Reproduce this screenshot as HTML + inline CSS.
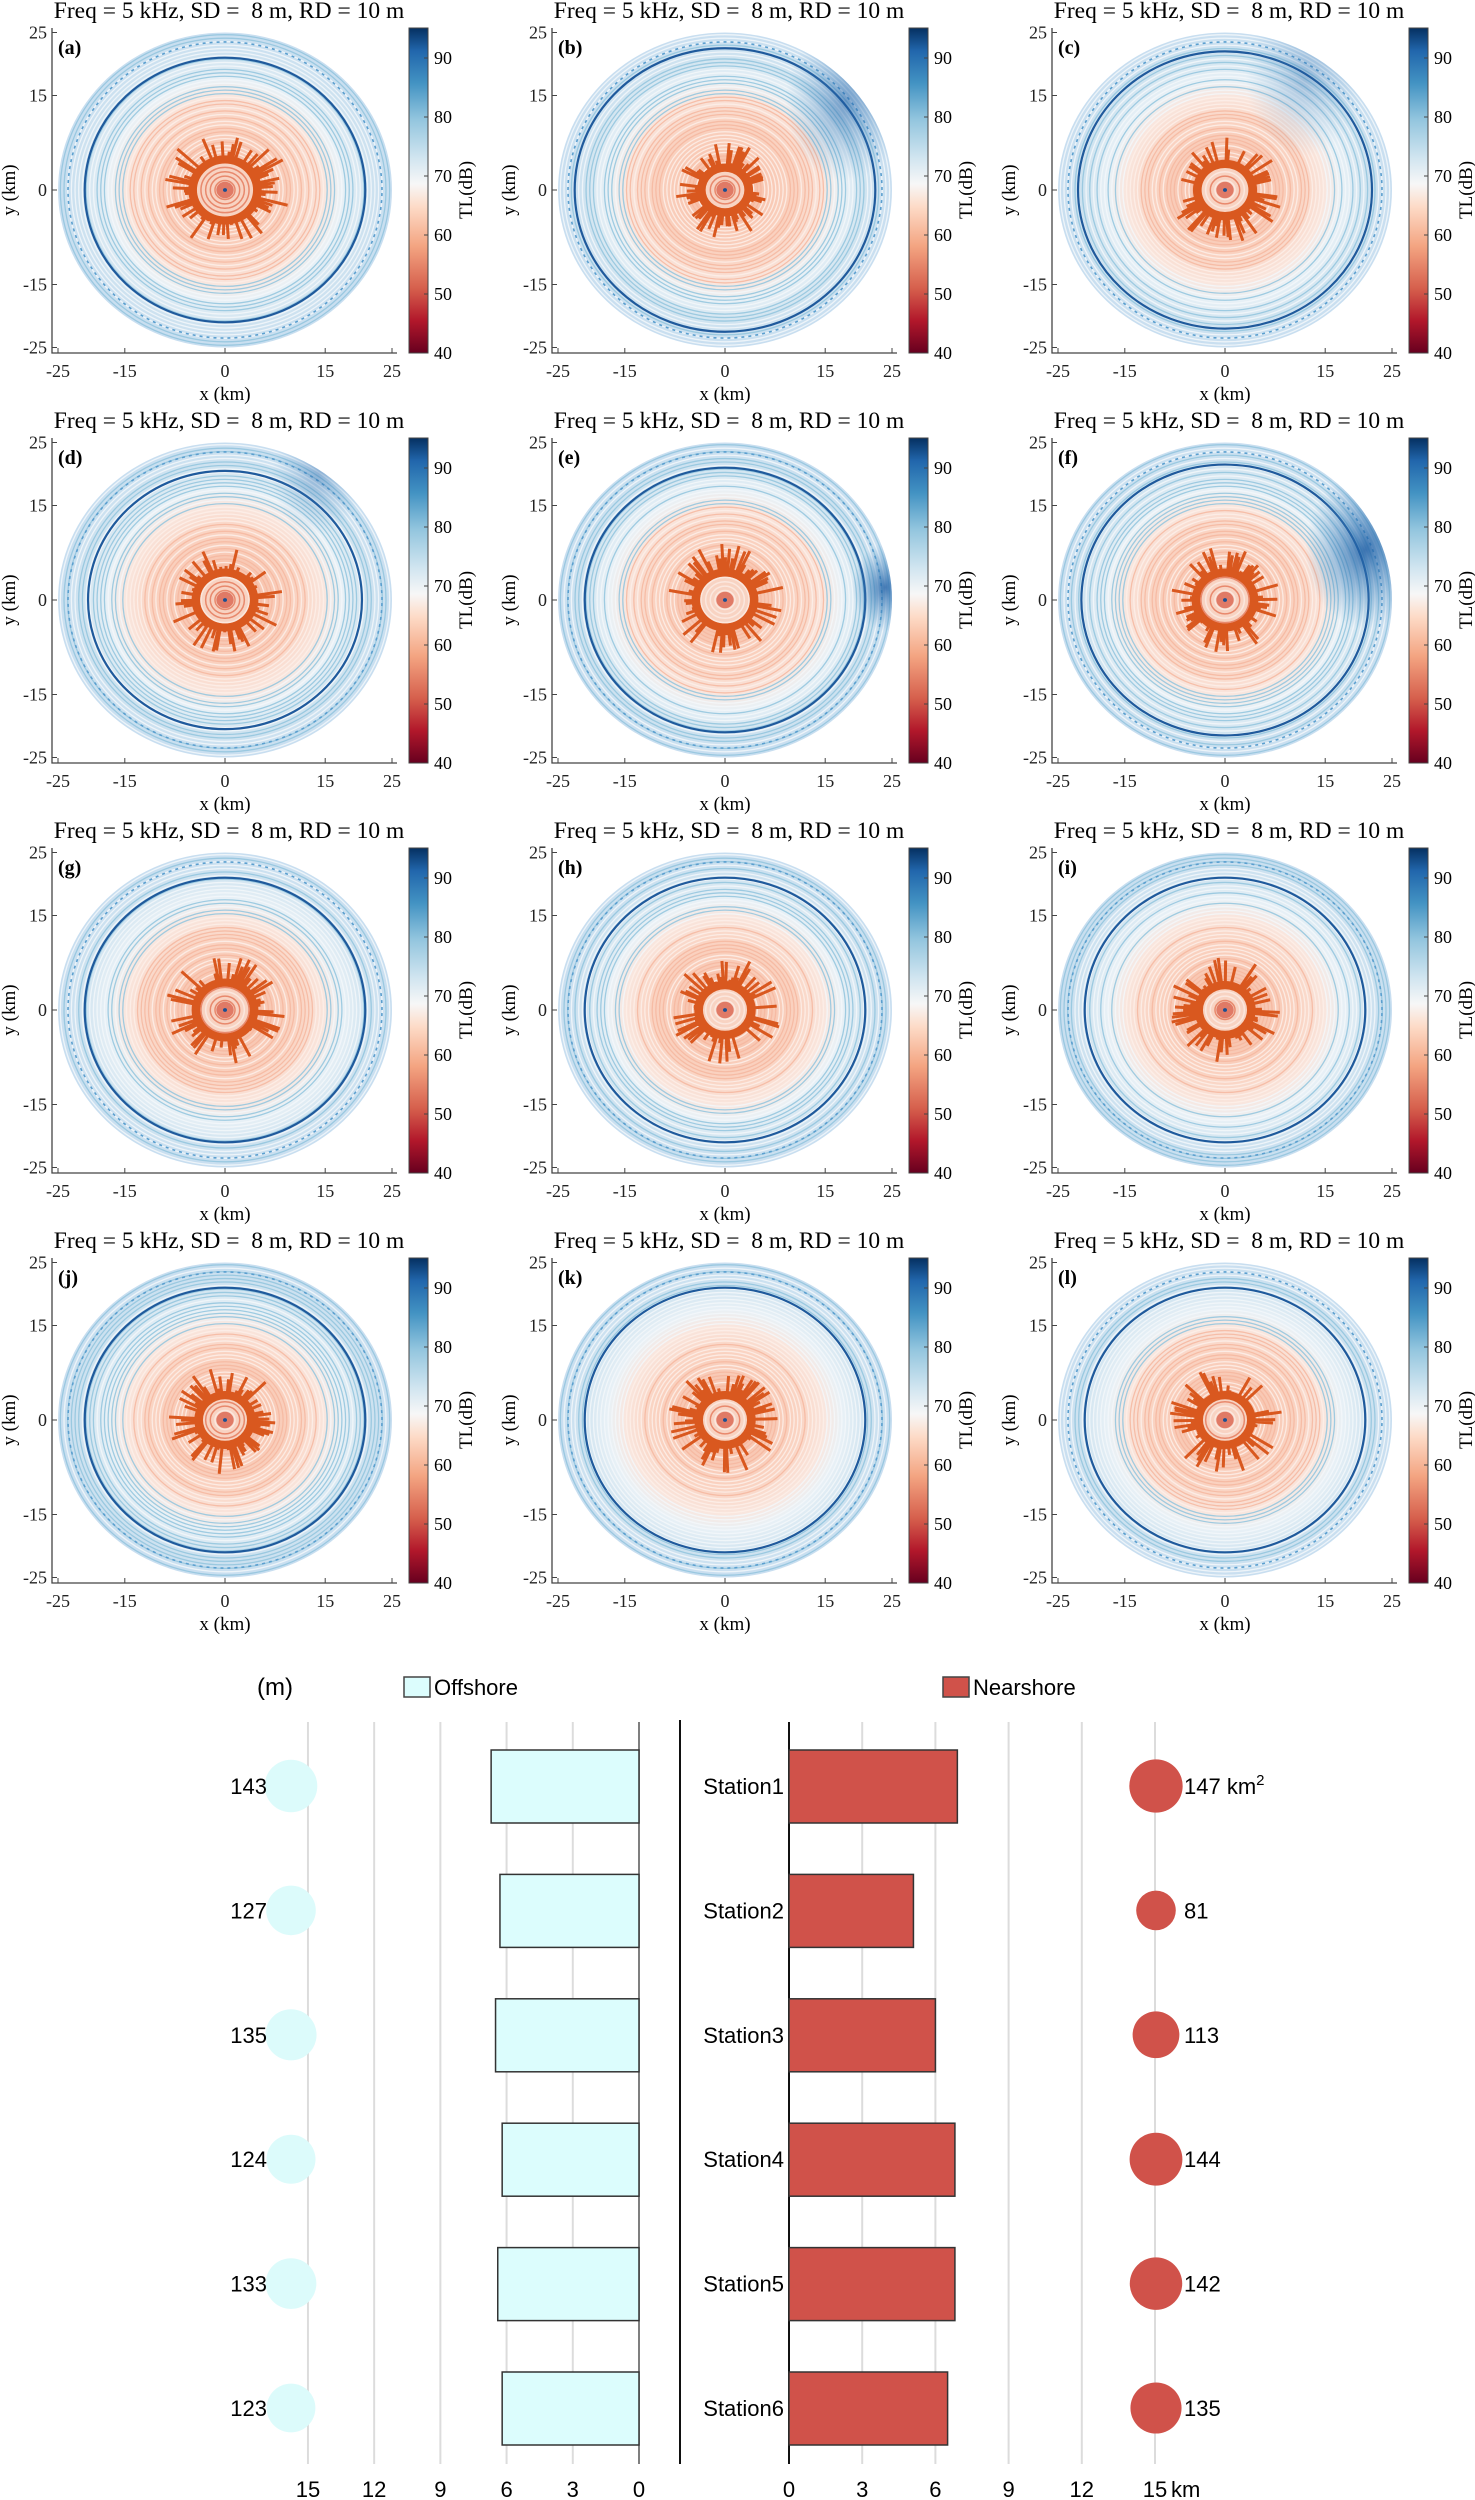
<!DOCTYPE html>
<html><head><meta charset="utf-8"><style>
html,body{margin:0;padding:0;background:#fff;}
svg{display:block;}
.serif{font-family:"Liberation Serif",serif;}
.sans{font-family:"Liberation Sans Narrow","Liberation Sans",sans-serif;}
</style></head><body>
<svg id="root" width="1475" height="2500" viewBox="0 0 1475 2500" xmlns="http://www.w3.org/2000/svg">
<defs>
<linearGradient id="cbar" x1="0" y1="1" x2="0" y2="0">
<stop offset="0" stop-color="#67001f"/><stop offset="0.1" stop-color="#b2182b"/><stop offset="0.2" stop-color="#d6604d"/><stop offset="0.33" stop-color="#f4a582"/><stop offset="0.45" stop-color="#fddbc7"/><stop offset="0.52" stop-color="#f7f7f7"/><stop offset="0.6" stop-color="#d1e5f0"/><stop offset="0.72" stop-color="#92c5de"/><stop offset="0.83" stop-color="#4393c3"/><stop offset="0.93" stop-color="#2166ac"/><stop offset="1" stop-color="#053061"/>
</linearGradient>
<radialGradient id="disk" cx="0" cy="0" r="25" gradientUnits="userSpaceOnUse">
<stop offset="0" stop-color="#ee9a80"/><stop offset="0.2" stop-color="#f8c4ae"/><stop offset="0.45" stop-color="#fad4c3"/><stop offset="0.6" stop-color="#f9e6de"/><stop offset="0.7" stop-color="#e9f1f6"/><stop offset="0.85" stop-color="#cfe3f0"/><stop offset="1" stop-color="#c8def0"/>
</radialGradient>
<radialGradient id="blueR" cx="0.5" cy="0.5" r="0.5">
<stop offset="0" stop-color="#1f5fa5" stop-opacity="0.9"/><stop offset="1" stop-color="#4a90c6" stop-opacity="0"/>
</radialGradient>
</defs>
<g id="panels"></g>
<g id="bottom"></g>
</svg>
<script>
const NS="http://www.w3.org/2000/svg";
function mk(tag,attrs,parent,text){const e=document.createElementNS(NS,tag);for(const k in attrs)e.setAttribute(k,attrs[k]);if(text!==undefined)e.textContent=text;parent.appendChild(e);return e;}

// ---------- heatmap panels ----------
const panelLabels=["(a)","(b)","(c)","(d)","(e)","(f)","(g)","(h)","(i)","(j)","(k)","(l)"];
const axisTicks=[-25,-15,0,15,25];
const cbarTicks=[40,50,60,70,80,90];
const darkRingR=[21,22.5,22,20.5,21,21.5,21,21,21,21,21,21];
const blueBlob=[null,[18,14,9,0.6],[12,18,9,0.35],[14,20,7,0.4],[24,2,5,0.9],[21,8,9,0.95],null,null,null,null,null,null];
const starBase=[5.5,4.2,4.8,5,5,5,5,4.6,4.6,4.6,4.6,4.6];
const starLen=[4.5,3.5,4,4,4,3.5,4,4,4,4,4,4];
function hash(a,b){let x=Math.sin(a*12.9898+b*78.233)*43758.5453;return x-Math.floor(x);}
const panelsG=document.getElementById('panels');
for(let p=0;p<12;p++){
  const col=p%3,row=Math.floor(p/3);
  const g=mk('g',{transform:`translate(${col*500},${row*410})`},panelsG);
  
  
  const cx=225,cy=190,sx=6.68,sy=6.3;
  const t=mk('text',{x:229,y:18,'text-anchor':'middle','font-size':23.5,class:'serif'},g,'Freq = 5 kHz, SD =\u00a0 8 m, RD = 10 m');
  
  const map=mk('g',{transform:`translate(${cx},${cy}) scale(${sx},${-sy})`},g);
  
  mk('circle',{cx:0,cy:0,r:25,fill:'url(#disk)'},map);
  for(let r=1;r<25;r+=0.55){
    const tt=r/25;const blue=tt>0.6;
    const c=blue?(hash(r,p)>0.5?'#92c5de':'#f4f8fb'):(hash(r,p)>0.5?'#f6b8a0':'#fdf0ea');
    mk('circle',{cx:0,cy:0,r:r.toFixed(2),fill:'none',stroke:c,'stroke-width':1.3,'vector-effect':'non-scaling-stroke',opacity:0.85},map);
  }
  mk('circle',{cx:0,cy:0,r:darkRingR[p],fill:'none',stroke:'#1f5a9c','stroke-width':2.2,'vector-effect':'non-scaling-stroke'},map);
  mk('circle',{cx:0,cy:0,r:23.5,fill:'none',stroke:'#5b9fcf','stroke-width':1.6,'vector-effect':'non-scaling-stroke','stroke-dasharray':'3 4'},map);
  if(blueBlob[p]){const b=blueBlob[p];
    const cl=mk('clipPath',{id:'clip'+p},map);mk('circle',{cx:0,cy:0,r:25},cl);
    mk('ellipse',{cx:b[0],cy:b[1],rx:b[2],ry:b[2]*1.4,fill:'url(#blueR)',opacity:b[3],'clip-path':`url(#clip${p})`},map);}
  // star: annulus + spikes
  const sg=mk('g',{},map);
  
  mk('circle',{cx:0,cy:0,r:starBase[p],fill:'#d9581f'},sg);
  let d='';const N=90;
  for(let k=0;k<N;k++){
    const h=hash(k,p+1);
    if(h<0.45)continue;
    const a=k/N*2*Math.PI+hash(k,p+9)*0.03;
    const r=starBase[p]+hash(k+3,p)*starLen[p];
    d+='M0,0L'+(r*Math.cos(a)).toFixed(2)+','+(r*Math.sin(a)).toFixed(2);
  }
  mk('path',{d:d,fill:'none',stroke:'#d9581f','stroke-width':3,'vector-effect':'non-scaling-stroke'},sg);
  mk('circle',{cx:0,cy:0,r:starBase[p]-1.3,fill:'#f8d3c2'},map);
  for(let r=0.8;r<starBase[p]-1.3;r+=0.7){mk('circle',{cx:0,cy:0,r:r,fill:'none',stroke:hash(r,p)>0.5?'#e8896d':'#fbe7de','stroke-width':1.5,'vector-effect':'non-scaling-stroke'},map);}
  mk('circle',{cx:0,cy:0,r:1.3,fill:'#e07a66'},map);
  mk('circle',{cx:0,cy:0,r:0.3,fill:'#1d4f91'},map);
  // axes
  const ax=mk('g',{stroke:'#444','stroke-width':1.3,fill:'none'},g);
  
  mk('path',{d:'M52,28V353H397'},ax);
  const tl=mk('g',{'font-size':18,class:'serif',fill:'#222'},g);
  axisTicks.forEach(v=>{
    const x=cx+v*sx,y=cy-v*sy;
    mk('line',{x1:x,y1:353,x2:x,y2:348,stroke:'#444'},g);
    mk('line',{x1:52,y1:y,x2:57,y2:y,stroke:'#444'},g);
    mk('text',{x:x,y:377,'text-anchor':'middle'},tl,String(v));
    mk('text',{x:47,y:y+6,'text-anchor':'end'},tl,String(v));
  });
  const xl=mk('text',{x:225,y:400,'text-anchor':'middle','font-size':19,class:'serif'},g,'x (km)');
  
  const yl=mk('text',{x:0,y:0,transform:'translate(15,190) rotate(-90)','text-anchor':'middle','font-size':19,class:'serif'},g,'y (km)');
  
  const pl=mk('text',{x:58,y:54,'font-size':20,'font-weight':'bold',class:'serif'},g,panelLabels[p]);
  
  // colorbar
  const cb=mk('rect',{x:409,y:28,width:19,height:325,fill:'url(#cbar)',stroke:'#444','stroke-width':1},g);
  
  cbarTicks.forEach(v=>{const y=353-(v-40)*5.9;
    mk('line',{x1:424,y1:y,x2:428,y2:y,stroke:'#444'},g);
    mk('text',{x:434,y:y+6,'font-size':18,class:'serif'},g,String(v));});
  const cl2=mk('text',{x:0,y:0,transform:'translate(472,190) rotate(-90)','text-anchor':'middle','font-size':19,class:'serif'},g,'TL(dB)');
  
}

// ---------- bottom chart ----------
const stations=["Station1","Station2","Station3","Station4","Station5","Station6"];
const offshoreDist=[6.7,6.3,6.5,6.2,6.4,6.2];
const nearshoreDist=[6.9,5.1,6.0,6.8,6.8,6.5];
const offshoreDepth=[143,127,135,124,133,123];
const nearshoreArea=[147,81,113,144,142,135];
const leftTicks=[15,12,9,6,3,0];
const rightTicks=[0,3,6,9,12,15];
const B=document.getElementById('bottom');
const xL=v=>639-v*22.07, xR=v=>789+v*24.4, rowY=i=>1786+i*124.4, rad=v=>Math.sqrt(v)*2.2;
leftTicks.forEach(v=>{mk('line',{x1:xL(v),y1:1722,x2:xL(v),y2:2464,stroke:v===0?'#555':'#dcdcdc','stroke-width':v===0?1.5:2},B);
  mk('text',{x:xL(v),y:2497,'text-anchor':'middle','font-size':22,class:'sans'},B,String(v));});
rightTicks.forEach(v=>{mk('line',{x1:xR(v),y1:1722,x2:xR(v),y2:2464,stroke:v===0?'#111':'#dcdcdc','stroke-width':v===0?2:2},B);
  mk('text',{x:xR(v),y:2497,'text-anchor':'middle','font-size':22,class:'sans'},B,String(v));});
mk('text',{x:xR(15)+16,y:2497,'font-size':22,class:'sans'},B,'km');
mk('line',{x1:680,y1:1720,x2:680,y2:2464,stroke:'#111','stroke-width':2},B);
const um=mk('text',{x:275,y:1695,'text-anchor':'middle','font-size':24,class:'sans'},B,'(m)');

const lo=mk('g',{},B);
mk('rect',{x:404,y:1677,width:26,height:20,fill:'#dcfdfd',stroke:'#444','stroke-width':1.5},lo);
mk('text',{x:434,y:1695,'font-size':22,class:'sans'},lo,'Offshore');
const ln=mk('g',{},B);
mk('rect',{x:943,y:1677,width:26,height:20,fill:'#d0524a',stroke:'#444','stroke-width':1.5},ln);
mk('text',{x:973,y:1695,'font-size':22,class:'sans'},ln,'Nearshore');
stations.forEach((s,i)=>{
  const y=rowY(i);
  const ob=mk('rect',{x:xL(offshoreDist[i]),y:y-36,width:xL(0)-xL(offshoreDist[i]),height:73,fill:'#dcfdfd',stroke:'#333','stroke-width':1.5},B);
  
  const nb=mk('rect',{x:xR(0),y:y-36,width:xR(nearshoreDist[i])-xR(0),height:73,fill:'#d0524a',stroke:'#333','stroke-width':1.5},B);
  
  const sl=mk('text',{x:784,y:y+8,'text-anchor':'end','font-size':22,class:'sans'},B,s);
  
  const oc=mk('circle',{cx:291,cy:y,r:rad(offshoreDepth[i]),fill:'#dcfbfb'},B);
  
  mk('text',{x:267,y:y+8,'text-anchor':'end','font-size':22,class:'sans'},B,String(offshoreDepth[i]));
  const nc=mk('circle',{cx:1156,cy:y,r:rad(nearshoreArea[i]),fill:'#d0524a'},B);
  
  const at=mk('text',{x:1184,y:y+8,'font-size':22,class:'sans'},B,String(nearshoreArea[i]));
  if(i===0){mk('tspan',{},at,' km');mk('tspan',{dy:-9,'font-size':15},at,'2');}
});
</script>
</body></html>
